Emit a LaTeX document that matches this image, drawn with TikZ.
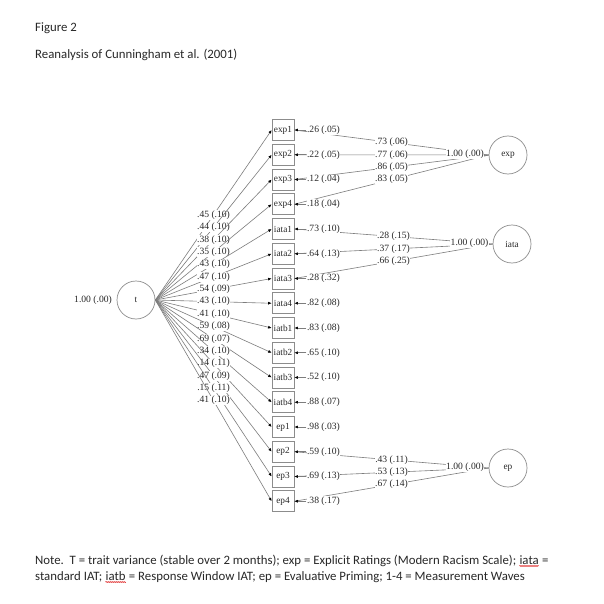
\documentclass[tikz,border=0pt]{standalone}
\usepackage{fontspec}
\setmainfont{Liberation Serif}
\newfontfamily\calfont{Carlito}
\usetikzlibrary{arrows.meta,decorations.pathmorphing}
\definecolor{linegray}{RGB}{125,125,125}
\definecolor{boxgray}{RGB}{140,140,140}
\definecolor{txtgray}{RGB}{40,40,40}
\begin{document}
\begin{tikzpicture}[x=1pt,y=-1pt,
  obs/.style={draw=boxgray, line width=0.7pt, minimum width=22pt, minimum height=21pt, inner sep=0pt, text=txtgray, font=\fontsize{9.3}{10}\selectfont},
  lat/.style={circle, draw=boxgray, line width=0.7pt, fill=white, minimum size=38pt, inner sep=0pt, text=txtgray, font=\fontsize{9.3}{10}\selectfont},
  lab/.style={fill=white, inner sep=0.5pt, text=txtgray, font=\fontsize{9.6}{10}\selectfont},
  edgeline/.style={draw=linegray, line width=0.6pt},
  arr/.style={edgeline, -{Latex[length=3.5pt,width=3pt,color=black]}},
  doc/.style={anchor=base west, inner sep=0pt, text=txtgray, font=\calfont\fontsize{12.8}{15}\selectfont},
  squig/.style={draw=red!85!black, line width=0.45pt, decorate, decoration={snake, amplitude=0.6pt, segment length=2pt}}
]
\useasboundingbox[fill=white] (0,0) rectangle (604,604);

% titles
\node[doc] (fig) at (35,32) {Figure 2};
\node[doc] (title) at (35,59) {Reanalysis of Cunningham et al. (2001)};

% observed boxes
\foreach \n [count=\i from 0] in {exp1,exp2,exp3,exp4,iata1,iata2,iata3,iata4,iatb1,iatb2,iatb3,iatb4,ep1,ep2,ep3,ep4}
  \node[obs] (\n) at (283,{130+24.75*\i}) {\n};

% latent circles
\node[lat] (t) at (136,300) {t};
\node[lat] (exp) at (508,155) {exp};
\node[lat] (iata) at (512,244) {iata};
\node[lat] (ep) at (508,468) {ep};

% trait loadings
\foreach \n/\l in {exp1/.45 (.10),exp2/.44 (.10),exp3/.38 (.10),exp4/.35 (.10),iata1/.43 (.10),iata2/.47 (.10),iata3/.54 (.09),iata4/.43 (.10),iatb1/.41 (.10),iatb2/.59 (.08),iatb3/.69 (.07),iatb4/.34 (.10),ep1/.14 (.11),ep2/.47 (.09),ep3/.15 (.11),ep4/.41 (.10)}
  \draw[arr] (t.east) -- node[lab] {\l} (\n.west);

\node[lab] (tv) at (93,300) {1.00 (.00)};

% method loadings
\foreach \n/\l in {exp1/.73 (.06),exp2/.77 (.06),exp3/.86 (.05),exp4/.83 (.05)}
  \draw[edgeline] (\n.east) -- node[lab] {\l} (exp.west);
\foreach \n/\l in {iata1/.28 (.15),iata2/.37 (.17),iata3/.66 (.25)}
  \draw[edgeline] (\n.east) -- node[lab] {\l} (iata.west);
\foreach \n/\l in {ep2/.43 (.11),ep3/.53 (.13),ep4/.67 (.14)}
  \draw[edgeline] (\n.east) -- node[lab] {\l} (ep.west);

\node[lab] (expv) at (465,154) {1.00 (.00)};
\node[lab] (iatav) at (469.5,243) {1.00 (.00)};
\node[lab] (epv) at (465,467) {1.00 (.00)};

% residuals
\foreach \n/\l in {exp1/.26 (.05),exp2/.22 (.05),exp3/.12 (.04),exp4/.18 (.04),iata1/.73 (.10),iata2/.64 (.13),iata3/.28 (.32),iata4/.82 (.08),iatb1/.83 (.08),iatb2/.65 (.10),iatb3/.52 (.10),iatb4/.88 (.07),ep1/.98 (.03),ep2/.59 (.10),ep3/.69 (.13),ep4/.38 (.17)}
{
  \node[lab, anchor=west] (e\n) at ([xshift=12pt]\n.east) {\l};
  \draw[arr] (e\n.west) -- (\n.east);
}

% note
\node[doc] (n1a) at (35,564) {Note.\ \ T = trait variance (stable over 2 months); exp = Explicit Ratings (Modern Racism Scale);};
\node[doc] (n1b) at ([xshift=2.9pt]n1a.base east) {iata};
\node[doc] (n1c) at ([xshift=2.9pt]n1b.base east) {=};
\node[doc] (n2a) at (35,580) {standard IAT;};
\node[doc] (n2b) at ([xshift=2.9pt]n2a.base east) {iatb};
\node[doc] (n2c) at ([xshift=2.9pt]n2b.base east) {= Response Window IAT; ep = Evaluative Priming; 1-4 = Measurement Waves};
\draw[squig] ([yshift=-2pt]n1b.base west) -- ([yshift=-2pt]n1b.base east);
\draw[squig] ([yshift=-2pt]n2b.base west) -- ([yshift=-2pt]n2b.base east);
\end{tikzpicture}
\end{document}
